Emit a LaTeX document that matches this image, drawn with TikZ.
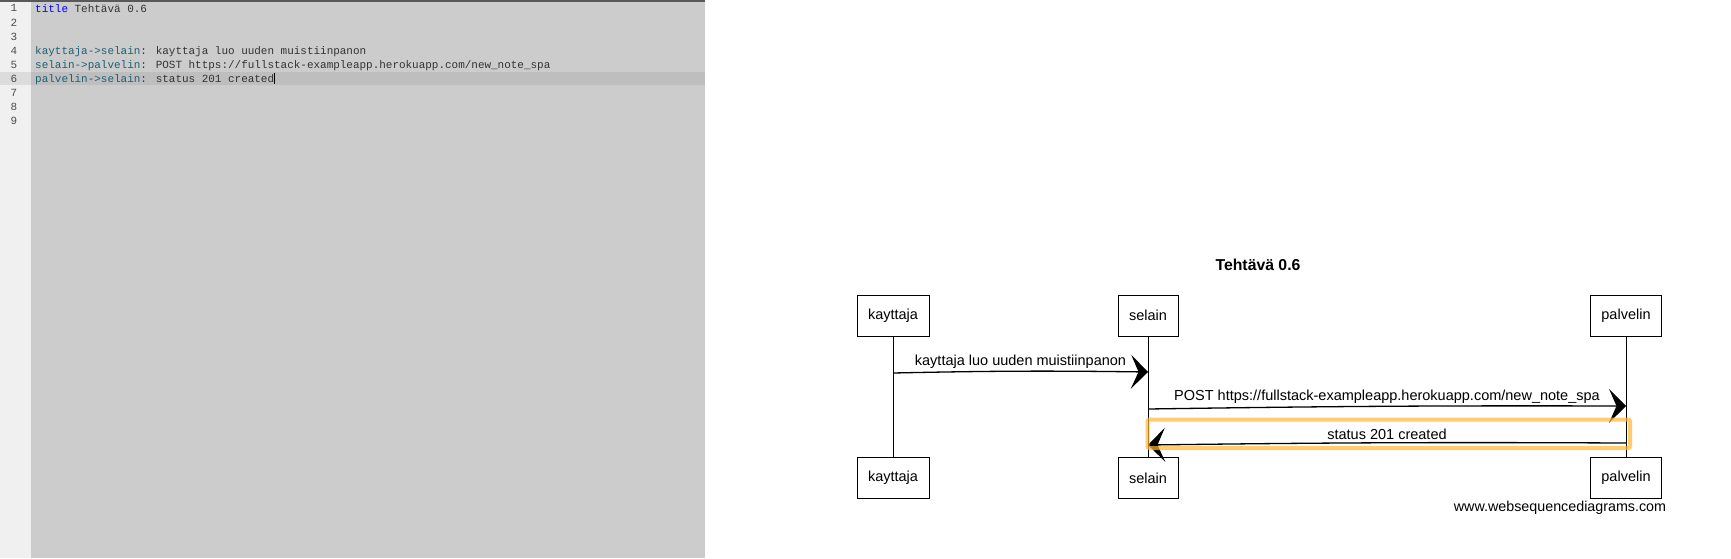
\documentclass[tikz,border=0pt]{standalone}
\usepackage{fontspec}
\setmainfont{Liberation Sans}
\newfontfamily\codefont{Liberation Mono}
\usetikzlibrary{arrows.meta}
\definecolor{gutterbg}{HTML}{F0F0F0}
\definecolor{gutterhl}{HTML}{DCDCDC}
\definecolor{editbg}{HTML}{CCCCCC}
\definecolor{edithl}{HTML}{BEBEBE}
\definecolor{kwblue}{HTML}{0000FF}
\definecolor{actorteal}{HTML}{1F5F72}
\definecolor{codetext}{HTML}{333333}
\definecolor{hlorange}{HTML}{FFB833}
\newcommand{\kw}[1]{{\color{kwblue}#1}}
\newcommand{\ac}[1]{{\color{actorteal}#1}}
\newcommand{\lifepair}[3]{%
  % name, label, x; one box at the top, one at the bottom.
  \node[actorbox] (#1top) at (#3,315.5) {#2};
  \node[actorbox] (#1bot) at (#3,478) {#2};
  \draw[lifeline] (#1top) -- (#1bot);
}

\begin{document}
\begin{tikzpicture}[x=1pt,y=-1pt,
  actorbox/.style={draw,line width=0.9pt,inner xsep=11pt,minimum height=41pt,font=\fontsize{14.5}{17}\selectfont},
  lifeline/.style={line width=0.8pt},
  msg/.style={line width=1.3pt,-{Stealth[length=17pt,width=34pt,inset=7.5pt]}},
  msglabel/.style={font=\fontsize{14.5}{17}\selectfont,inner sep=2pt},
  codeline/.style={anchor=base west,inner sep=0pt,text=codetext,font=\codefont\fontsize{10.96}{13}\selectfont},
  lineno/.style={inner sep=0pt,text=black!70,font=\codefont\fontsize{10.96}{13}\selectfont}]
  \useasboundingbox (0,0) rectangle (1731,558);
  \fill[white] (0,0) rectangle (1731,558);

  % editor
  \fill[gutterbg] (0,0) rectangle (31,558);
  \fill[editbg] (31,0) rectangle (705,558);
  \fill[gutterhl] (0,71.5) rectangle (31,84.5);
  \fill[edithl] (31,71.5) rectangle (705,84.5);
  \fill[black!65] (0,0) rectangle (705,1.5);
  \foreach \n in {1,...,9}{\node[lineno] (n\n) at (14,{8.3+14.1*(\n-1)}) {\n};}
  \node[codeline] (c1) at (35,12.2) {\kw{title} Tehtävä 0.6};
  \node[codeline] (c4) at (35,54.5) {\ac{kayttaja->selain}: kayttaja luo uuden muistiinpanon};
  \node[codeline] (c5) at (35,68.6) {\ac{selain->palvelin}: POST https://fullstack-exampleapp.herokuapp.com/new\_note\_spa};
  \node[codeline] (c6) at (35,82.4) {\ac{palvelin->selain}: status 201 created};
  \draw[line width=1.6pt] (c6.east |- 0,72.5) -- (c6.east |- 0,84);

  % diagram
  \node[font=\bfseries\fontsize{15.8}{18}\selectfont] (title) at (1258,265) {Tehtävä 0.6};
  \lifepair{kayttaja}{kayttaja}{893}
  \lifepair{selain}{selain}{1148}
  \lifepair{palvelin}{palvelin}{1626}

  \coordinate (k1) at (893,373);
  \coordinate (s1) at (1148,372);
  \coordinate (s2) at (1148,409);
  \coordinate (p2) at (1626,406);
  \coordinate (p3) at (1626,443);
  \coordinate (s3) at (1148,445);
  \draw[msg] (k1) to[bend left=1] node[msglabel,midway,above] {kayttaja luo uuden muistiinpanon} (s1);
  \draw[msg] (s2) to[bend left=0.5] node[msglabel,midway,above] {POST https://fullstack-exampleapp.herokuapp.com/new\_note\_spa} (p2);
  \draw[msg] (p3) to[bend right=0.5] node[msglabel,midway,above] {status 201 created} (s3);

  \draw[hlorange,draw opacity=0.7,line width=4pt,rounded corners=2pt] (1147.5,419.5) rectangle (1630,448);

  \node[font=\fontsize{14.3}{17}\selectfont] (credit) at (1560,508) {www.websequencediagrams.com};
\end{tikzpicture}
\end{document}
